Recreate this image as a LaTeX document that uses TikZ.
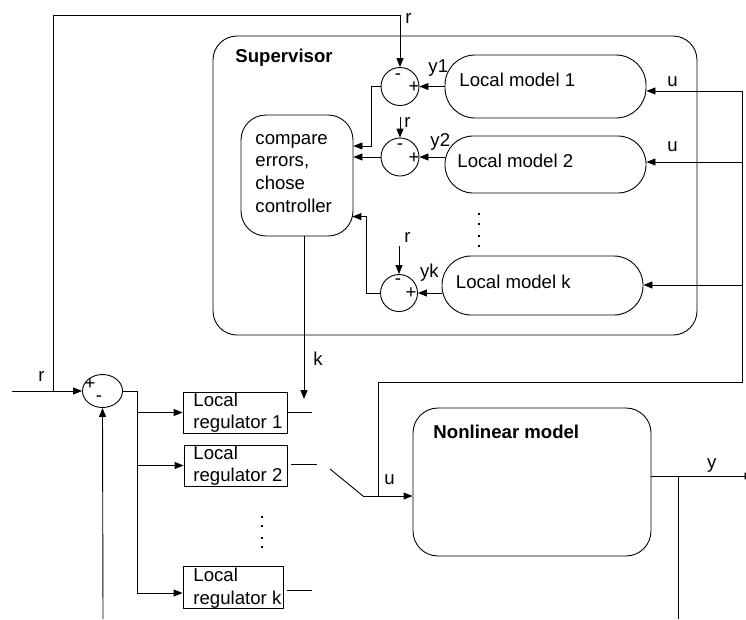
\documentclass[tikz,border=0pt]{standalone}
\usepackage{fontspec}
\setmainfont{Liberation Sans}
\usetikzlibrary{arrows.meta,shapes.geometric}
\begin{document}
\begin{tikzpicture}[x=1pt,y=-1pt,
  line width=0.9pt,
  every node/.style={font=\fontsize{18.6}{22}\selectfont},
  arr/.style={-{Triangle[length=9pt,width=7pt]}},
  rbox/.style={draw, rounded corners=#1, inner sep=0pt},
  sq/.style={draw, inner sep=0pt},
  sumc/.style={draw, circle, minimum size=#1, inner sep=0pt},
  txt/.style={anchor=base west, inner sep=0pt},
  sgn/.style={anchor=base, inner sep=0pt},
  dotm/.style={fill, inner sep=0pt, minimum size=2.2pt}
]
\useasboundingbox (0,0) rectangle (746,619);

% ---------- supervisor ----------
\node[rbox=24pt, minimum width=484pt, minimum height=299pt] (sup) at (455,185.5) {};
\node[txt] (tsup) at (235,62) {\bfseries Supervisor};

\node[rbox=25pt, minimum width=112pt, minimum height=121pt] (cmp) at (297,175.5) {};
\node[txt] (tc1) at (255,144) {compare};
\node[txt] (tc2) at (255,166.7) {errors,};
\node[txt] (tc3) at (255,189.3) {chose};
\node[txt] (tc4) at (255,212) {controller};

\node[rbox=30pt, minimum width=201pt, minimum height=63pt] (m1) at (545.5,86.5) {};
\node[txt] (tm1) at (459,86) {Local model 1};
\node[rbox=28pt, minimum width=201pt, minimum height=57pt] (m2) at (545.5,164.5) {};
\node[txt] (tm2) at (457,167) {Local model 2};
\node[rbox=29pt, minimum width=201pt, minimum height=59pt] (mk) at (542.5,285.5) {};
\node[txt] (tmk) at (455.5,288) {Local model k};

\node[sumc=38pt] (c1) at (400,86.5) {};
\node[sumc=38pt] (c2) at (400,157) {};
\node[sumc=37pt] (ck) at (399,293) {};

% signs in the comparators
\node[sgn] (c1m) at (398,79) {-};
\node[sgn] (c1p) at (414,92.5) {+};
\node[sgn] (c2m) at (400,149) {-};
\node[sgn] (c2p) at (414,163.5) {+};
\node[sgn] (ckm) at (398,284) {-};
\node[sgn] (ckp) at (411,298) {+};

% labels
\node[txt] (ly1) at (428,72.7) {y1};
\node[txt] (ly2) at (430,146.7) {y2};
\node[txt] (lyk) at (419.7,277.6) {yk};
\node[txt] (lu1) at (667,86.7) {u};
\node[txt] (lu2) at (667,151.7) {u};
\node[txt] (lr1) at (405,23) {r};
\node[txt] (lr2) at (404,127.7) {r};
\node[txt] (lrk) at (404,242.7) {r};

\foreach \yy in {214,224,236,246} \node[dotm] at (479,\yy) {};

% ---------- loop ----------
\node[draw, ellipse, minimum width=40pt, minimum height=33pt, inner sep=0pt] (s0) at (102.5,391) {};
\node[sgn] (s0p) at (90,389.5) {+};
\node[sgn] (s0m) at (99,401) {-};
\node[txt] (lrin) at (38,381) {r};

\node[sq, minimum width=104pt, minimum height=41pt] (r1) at (235,412.5) {};
\node[txt] at (193,406) {Local};
\node[txt] at (193,428.3) {regulator 1};
\node[sq, minimum width=103pt, minimum height=41pt] (r2) at (235.5,465.5) {};
\node[txt] at (193,459) {Local};
\node[txt] at (193,481.7) {regulator 2};
\node[sq, minimum width=100pt, minimum height=42pt] (rk) at (233,587) {};
\node[txt] at (193,581) {Local};
\node[txt] at (193,604) {regulator k};

\foreach \yy in {517,525.7,538.3,546.7} \node[dotm] at (262,\yy) {};

\node[rbox=25pt, minimum width=238pt, minimum height=148pt] (nl) at (532,482) {};
\node[txt] (tnl) at (433,438) {\bfseries Nonlinear model};

\node[txt] (lk) at (313,365) {k};
\node[txt] (lu) at (384,484) {u};
\node[txt] (ly) at (706.7,468) {y};

% ---------- coordinates of free ends and bends ----------
\coordinate (in) at (12,391);
\coordinate (jr) at (53,391);
\coordinate (tl) at (53,15);
\coordinate (fb) at (103,619);
\coordinate (sp) at (137,391);
\coordinate (kend) at (304,399);
\coordinate (o1) at (312,412.5);
\coordinate (o2) at (317,464.5);
\coordinate (ok) at (312,590);
\coordinate (sws) at (330,469);
\coordinate (swe) at (363,496);
\coordinate (uj) at (378,496);
\coordinate (ua) at (378,382);
\coordinate (ub) at (742,382);
\coordinate (ut) at (742,91);
\coordinate (u2) at (742,162);
\coordinate (uk) at (742,285);
\coordinate (yb) at (678,476);
\coordinate (ybot) at (678,619);
\coordinate (yend) at (753.5,476);
\coordinate (r2t) at (400,117);
\coordinate (rkt) at (399,246);

% ---------- connectors ----------
\draw[arr] (in) -- (s0.west);
\draw[arr] (jr) -- (tl) -| (c1.north);
\draw[arr] (fb) -- (s0.south);
\draw (s0.east) -- (sp) -- (sp |- 0,593);
\draw[arr] (sp |- r1.west) -- (r1.west);
\draw[arr] (sp |- r2.west) -- (r2.west);
\draw[arr] (sp |- 0,593) -- (rk.west |- 0,593);

\draw (r1.east) -- (o1);
\draw ([xshift=4pt]r2.east |- o2) -- (o2);
\draw ([xshift=4pt]rk.east |- ok) -- (ok);

\draw[arr] (kend |- cmp.south) -- (kend);

\draw (sws) -- (swe);
\draw[arr] (swe) -- (swe -| nl.west);
\draw (uj) -- (ua) -- (ub) -- (ut);
\draw[arr] (ut) -- (ut -| m1.east);
\draw[arr] (u2) -- (u2 -| m2.east);
\draw[arr] (uk) -- (uk -| mk.east);

\draw[arr] (c1 -| m1.west) -- (c1.east);
\draw[arr] (c2 -| m2.west) -- (c2.east);
\draw[arr] (ck -| mk.west) -- (ck.east);

\draw[arr] (r2t) -- (c2.north);
\draw[arr] (rkt) -- (ck.north);

\draw[arr] (c1.west) -- (371,86.5) |- (cmp.east |- 0,146);
\draw[arr] (c2.west) -- (c2.west -| cmp.east);
\draw[arr] (ck.west) -- (366,293) |- (352.4,216.6);

\draw[arr] ([yshift=6pt]nl.east) -- (yend);
\draw (yb) -- (ybot);
\end{tikzpicture}
\end{document}
